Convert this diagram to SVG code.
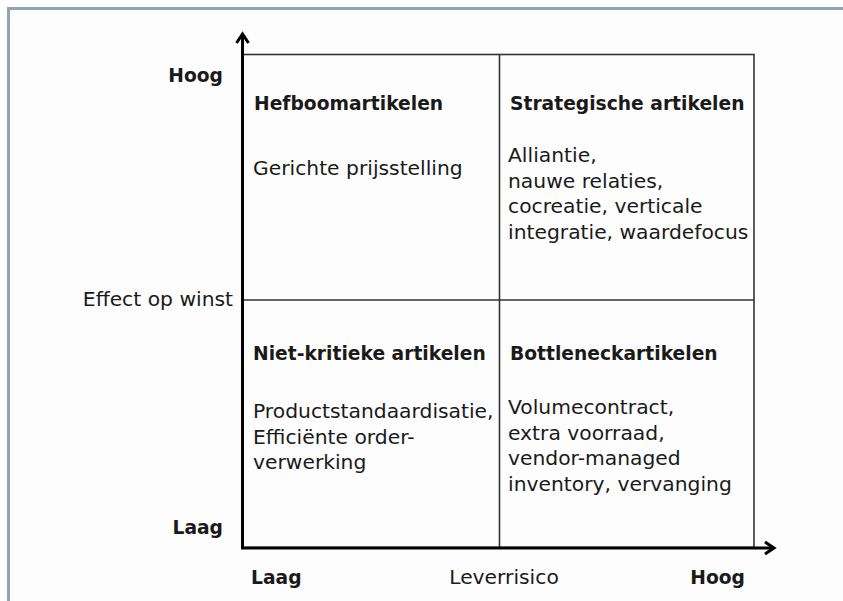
<svg xmlns="http://www.w3.org/2000/svg" width="843" height="601" viewBox="0 0 843 601">
<style>
text{font-family:"DejaVu Sans","Liberation Sans",sans-serif;fill:#1a1a1a}
.b{font-weight:bold;font-size:18.7px}
.r{font-size:20.3px}
.ax{stroke:#000;stroke-width:3;fill:none}
.grid{stroke:#333;stroke-width:1.6;fill:none}
</style>
<rect x="0" y="0" width="843" height="601" fill="#ffffff"/>
<rect x="8.5" y="8.5" width="840" height="600" fill="#fdfdfd" stroke="#8aa6b8" stroke-width="3"/>
<g id="grid">
<rect class="grid" x="243" y="54.5" width="511" height="493"/>
<line class="grid" x1="499.5" y1="54.5" x2="499.5" y2="547" stroke="#555"/>
<line class="grid" x1="243" y1="300" x2="754" y2="300"/>
</g>
<g id="connectors">
<line class="ax" x1="242.5" y1="548" x2="242.5" y2="34"/>
<polyline class="ax" points="236.5,43 242.5,34 248.5,43"/>
<line class="ax" x1="241" y1="548" x2="774" y2="548"/>
<polyline class="ax" points="765,542 774,548 765,554"/>
</g>
<g id="q1">
<text class="b" x="254" y="110">Hefboomartikelen</text>
<text class="r" x="253" y="175">Gerichte prijsstelling</text>
</g>
<g id="q2">
<text class="b" x="510" y="110">Strategische artikelen</text>
<text class="r" x="508" y="162">Alliantie,</text>
<text class="r" x="508" y="187.5">nauwe relaties,</text>
<text class="r" x="508" y="213">cocreatie, verticale</text>
<text class="r" x="508" y="238.5">integratie, waardefocus</text>
</g>
<g id="q3">
<text class="b" x="253" y="360">Niet-kritieke artikelen</text>
<text class="r" x="253" y="418">Productstandaardisatie,</text>
<text class="r" x="253" y="443.5">Efficiënte order-</text>
<text class="r" x="253" y="469">verwerking</text>
</g>
<g id="q4">
<text class="b" x="510" y="360">Bottleneckartikelen</text>
<text class="r" x="508" y="414">Volumecontract,</text>
<text class="r" x="508" y="439.5">extra voorraad,</text>
<text class="r" x="508" y="465">vendor-managed</text>
<text class="r" x="508" y="490.5">inventory, vervanging</text>
</g>
<g id="labels">
<text class="b" x="223" y="82" text-anchor="end">Hoog</text>
<text class="b" x="223" y="534" text-anchor="end">Laag</text>
<text class="r" x="233" y="306" text-anchor="end">Effect op winst</text>
<text class="b" x="251" y="584">Laag</text>
<text class="r" x="504" y="584" text-anchor="middle">Leverrisico</text>
<text class="b" x="745" y="584" text-anchor="end">Hoog</text>
</g>
</svg>
